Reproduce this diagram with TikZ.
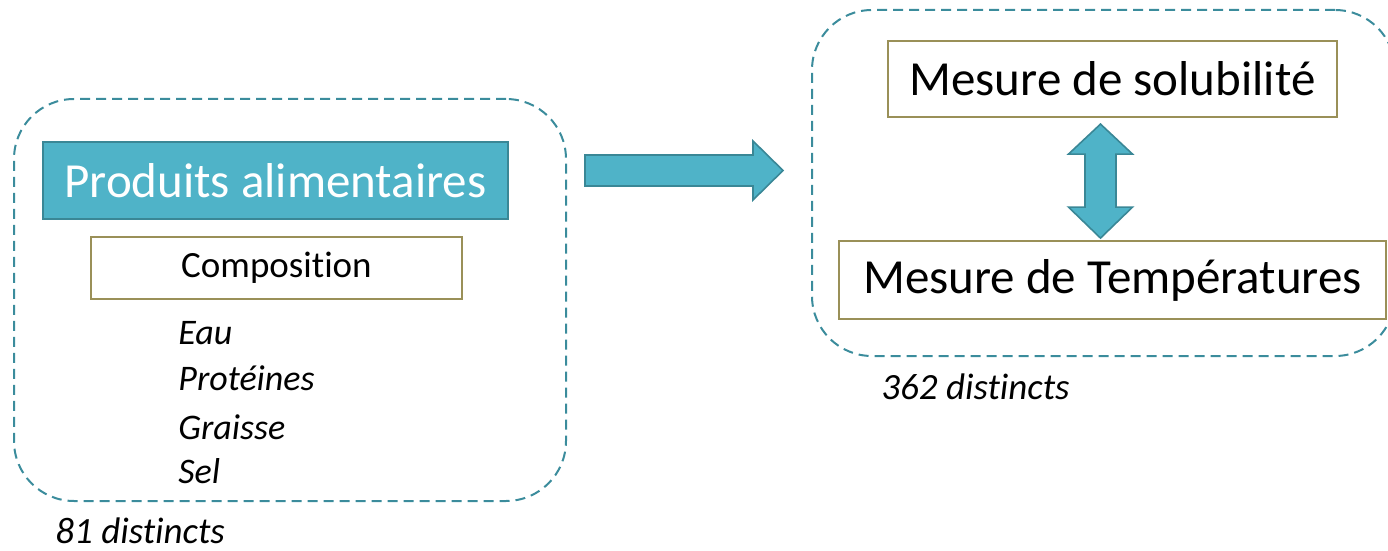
\documentclass[tikz,border=0pt]{standalone}
\usepackage{fontspec}
\setmainfont{Carlito}[Ligatures=NoCommon]
\usetikzlibrary{calc}
\definecolor{aqua}{HTML}{4FB3C8}
\definecolor{aquadark}{HTML}{3A8796}
\definecolor{dashteal}{HTML}{3B8C9C}
\definecolor{olive}{HTML}{9A9058}
\tikzset{
  group/.style={draw=dashteal,line width=1pt,dash pattern=on 5pt off 3pt,rounded corners=30pt},
  mainbox/.style={fill=aqua,draw=aquadark,line width=1pt,text=white,font=\fontsize{24.5}{28}\selectfont},
  measbox/.style={draw=olive,line width=1.1pt,fill=white,font=\fontsize{24.5}{28}\selectfont},
  item/.style={anchor=west,inner sep=0pt,font=\fontsize{18}{21}\selectfont\itshape},
  block/.style={fill=aqua,draw=aquadark,line width=0.8pt,line join=miter}
}
\begin{document}
\begin{tikzpicture}[x=0.5pt,y=-0.5pt]
  \useasboundingbox (0,0) rectangle (1388,551);
  \clip (0,0) rectangle (1388,551);
  % dashed groups
  \node[group,minimum width=276pt,minimum height=201pt] (grpL) at (290,300) {};
  \node[group,minimum width=291.5pt,minimum height=173pt] (grpR) at (1103.5,183) {};
  % left group
  \node[mainbox,minimum width=232.5pt,minimum height=38.5pt] (prod) at (275.5,180.5) {Produits alimentaires};
  \node[measbox,minimum width=185.5pt,minimum height=31pt,font=\fontsize{18.5}{22}\selectfont] (comp) at (276.5,268) {Composition};
  \node[item] (eau) at (178,333) {Eau};
  \node[item] (prot) at (178,378) {Protéines};
  \node[item] (grai) at (178,427) {Graisse};
  \node[item] (sel) at (178,471) {Sel};
  \node[item,font=\fontsize{18.5}{22}\selectfont\itshape] (n81) at (55,531) {81 distincts};
  % right group
  \node[measbox,minimum width=224.5pt,minimum height=38pt] (sol) at (1112.5,79) {Mesure de solubilité};
  \node[measbox,minimum width=273.5pt,minimum height=39pt] (temp) at (1112.5,280) {Mesure de Températures};
  \node[item,font=\fontsize{18.5}{22}\selectfont\itshape] (n362) at (881,387) {362 distincts};
  % block arrow between the groups
  \coordinate (a0) at ($(grpL.east)+(18,-145)$);
  \draw[block] (a0) -- ++(168,0) -- ++(0,-14) -- ++(30,29.5) -- ++(-30,29.5) -- ++(0,-14) -- ++(-168,0) -- cycle;
  % double arrow between the measures
  \coordinate (b0) at ($(sol.south)+(-27.5,36)$);
  \draw[block] (b0) -- ++(-16.5,0) -- ++(32,-30) -- ++(32,30) -- ++(-16.5,0) -- ++(0,53) -- ++(16.5,0) -- ++(-32,31) -- ++(-32,-31) -- ++(16.5,0) -- cycle;
\end{tikzpicture}
\end{document}
